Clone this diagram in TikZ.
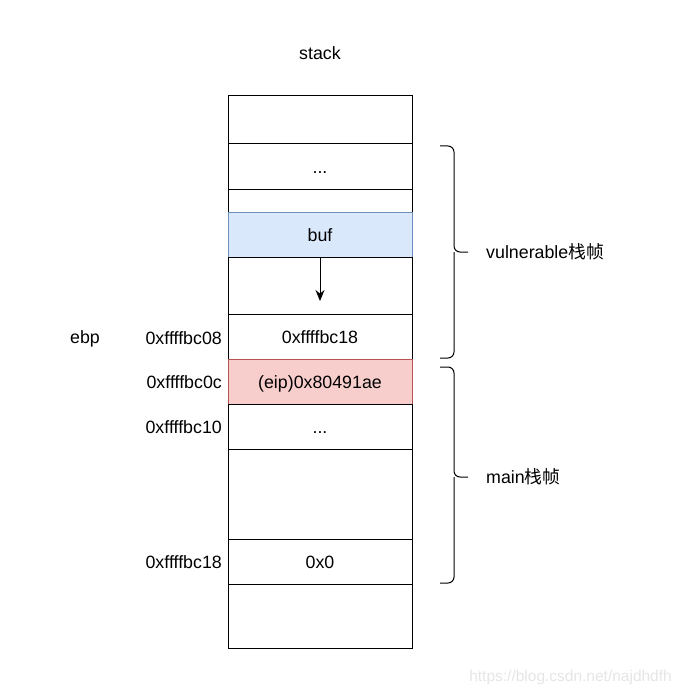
\documentclass[tikz,border=0pt]{standalone}
\usepackage{fontspec}
\setmainfont{Liberation Sans}
\newfontfamily\cjk{Noto Sans CJK SC}
\usetikzlibrary{arrows.meta}
\definecolor{bufblue}{HTML}{DAE8FC}
\definecolor{bufline}{HTML}{6C8EBF}
\definecolor{eipred}{HTML}{F8CECC}
\definecolor{eipline}{HTML}{B85450}
\tikzset{
  cell/.style={draw, line width=1pt, minimum width=184pt, inner sep=0pt, text height=13pt, text depth=0pt, font=\fontsize{17.8}{20}\selectfont},
  addr/.style={anchor=east, inner sep=0pt, text height=13pt, text depth=0pt, font=\fontsize{17.8}{20}\selectfont},
  lbl/.style={inner sep=0pt, text height=13pt, text depth=0pt, font=\fontsize{17.8}{20}\selectfont},
  brace/.style={line width=1pt, rounded corners=6pt}
}
\begin{document}
\begin{tikzpicture}[x=1pt, y=-1pt]
    \useasboundingbox (0,0) rectangle (682,695);

    \node[lbl] (title) at (320, 53) {stack};

    \node[cell, minimum height=48pt] (r1) at (320, 120) {};
    \node[cell, minimum height=45pt] (r2) at (320, 166.5) {...};
    \node[cell, minimum height=23pt] (r3) at (320, 200.5) {};
    \node[cell, minimum height=45pt, fill=bufblue, draw=bufline] (buf) at (320, 234.5) {buf};
    \node[cell, minimum height=57pt] (r5) at (320, 285.5) {};
    \node[cell, minimum height=45pt] (r6) at (320, 336.5) {0xffffbc18};
    \node[cell, minimum height=45pt, fill=eipred, draw=eipline] (eip) at (320, 381.5) {(eip)0x80491ae};
    \node[cell, minimum height=45pt] (r8) at (320, 426.5) {...};
    \node[cell, minimum height=90pt] (r9) at (320, 494) {};
    \node[cell, minimum height=45pt] (r10) at (320, 561.5) {0x0};
    \node[cell, minimum height=64pt] (r11) at (320, 616) {};

    \coordinate (bufend) at (320, 301);
    \draw[line width=1pt, -{Stealth[length=11pt, width=9pt]}] (buf.south) -- (bufend);

    \node[lbl] (ebp) at (85, 337) {ebp};
    \node[addr] (a08) at (222, 338) {0xffffbc08};
    \node[addr] (a0c) at (222, 382) {0xffffbc0c};
    \node[addr] (a10) at (222, 427) {0xffffbc10};
    \node[addr] (a18) at (222, 562) {0xffffbc18};

    % frames
    \draw[brace] (440, 146) -- (454, 146) -- (454, 252) -- (468, 252);
    \draw[brace] (440, 358) -- (454, 358) -- (454, 252);
    \draw[brace] (440, 367) -- (454, 367) -- (454, 477) -- (468, 477);
    \draw[brace] (440, 583) -- (454, 583) -- (454, 477);

    \node[lbl, anchor=west] (vuln) at (486, 252) {vulnerable{\cjk 栈帧}};
    \node[lbl, anchor=west] (mainf) at (486, 477) {main{\cjk 栈帧}};

    \node[anchor=east, inner sep=0pt, text=black!10, font=\fontsize{15.5}{17}\selectfont] (mark) at (672, 677) {https://blog.csdn.net/najdhdfh};
\end{tikzpicture}
\end{document}
